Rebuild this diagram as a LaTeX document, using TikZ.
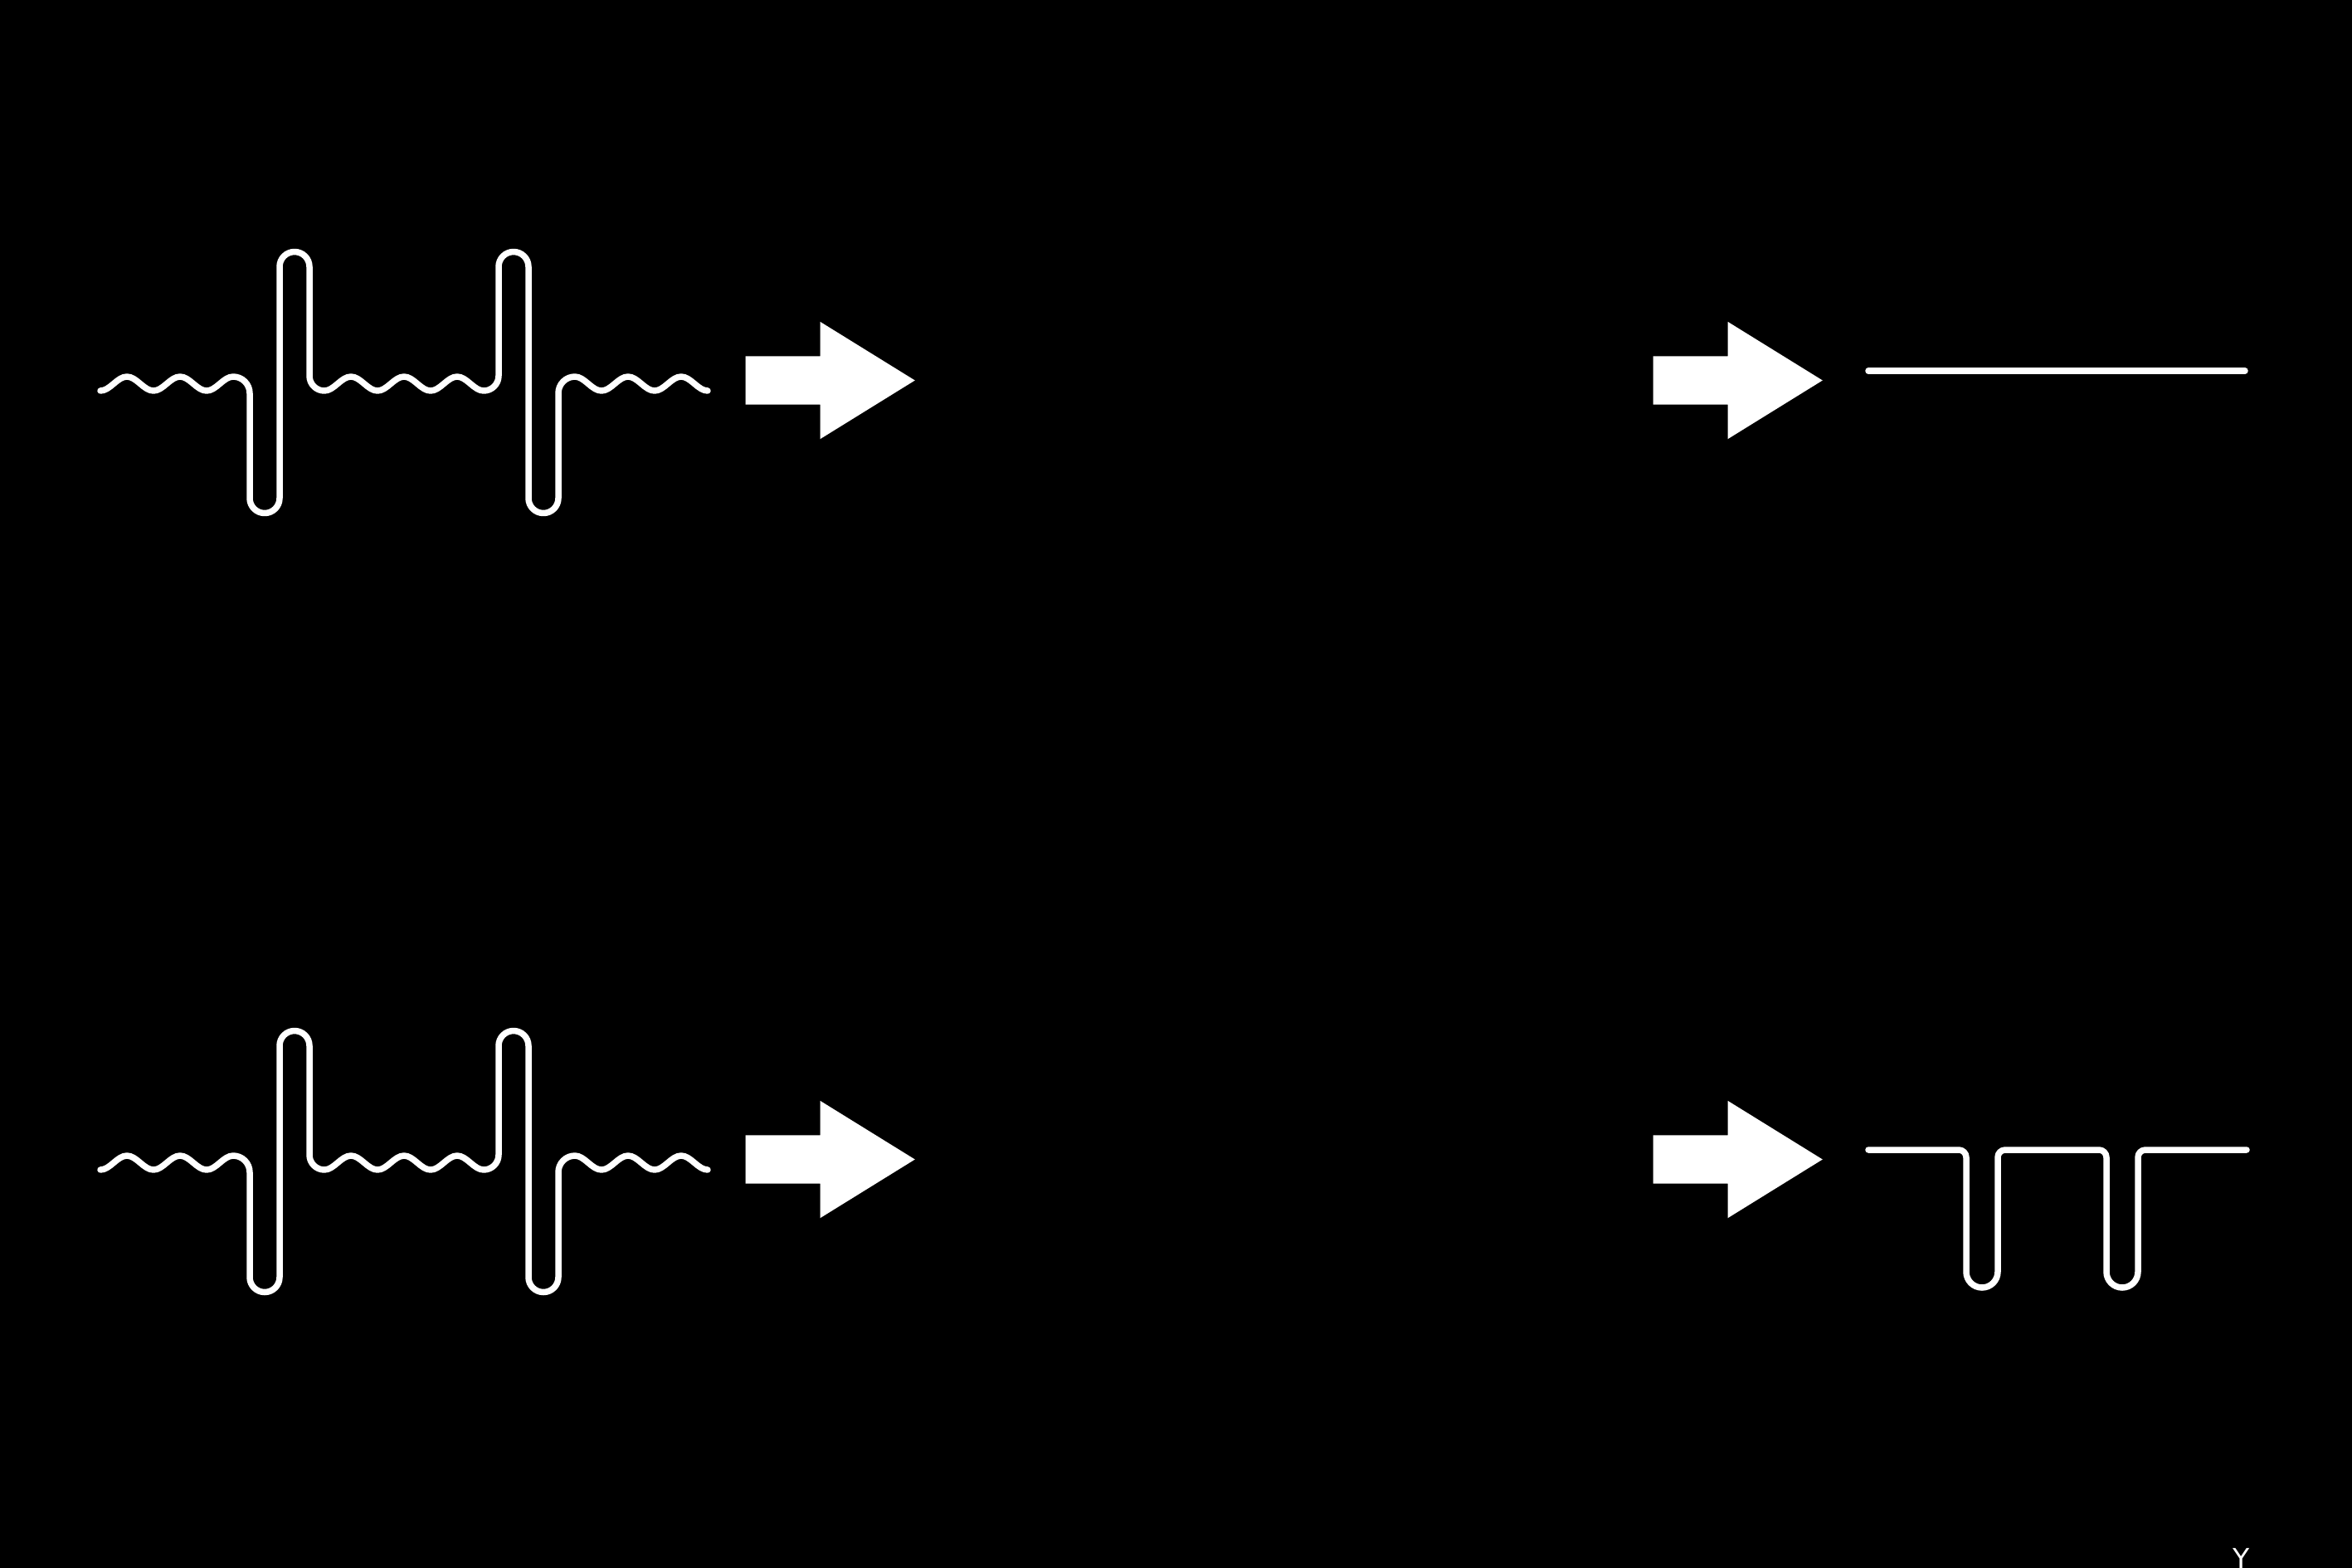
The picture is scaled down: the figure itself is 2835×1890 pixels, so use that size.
\documentclass[tikz,border=0pt]{standalone}
\usepackage{fontspec}
\newfontfamily\labelfont{DejaVu Sans}
\usetikzlibrary{shapes.arrows}
\tikzset{
    signalline/.style={draw=white,line width=0.075cm,line cap=round,line join=round},
    stagearrow/.style={single arrow,fill=white,draw=none,inner xsep=0pt,inner ysep=0.285cm,minimum height=2.04cm,single arrow head extend=0.415cm,single arrow tip angle=63.5,anchor=tail},
    cornerlabel/.style={anchor=north,inner sep=0pt,text=white,font=\labelfont\fontsize{9.4}{11}\selectfont},
    noisysignal/.pic={
        \draw[signalline] (121,471) cos (137,462.5) sin (153,454) cos (169,462.5) sin (185,471)
            cos (201,462.5) sin (217,454) cos (233,462.5) sin (249,471)
            cos (265,462.5) sin (281,454)
            arc (270:360:20) -- (301,600.5) arc (180:0:18) -- (337,321.5) arc (180:360:18)
            -- (373,453) arc (180:90:18)
            cos (407,462.5) sin (423,454) cos (439,462.5) sin (455,471)
            cos (471,462.5) sin (487,454) cos (503,462.5) sin (519,471)
            cos (535,462.5) sin (551,454) cos (567,462.5) sin (583,471)
            arc (90:0:18) -- (601,321.5) arc (180:360:18) -- (637,600.5) arc (180:0:18)
            -- (673,474) arc (180:270:20)
            cos (709,462.5) sin (725,471) cos (741,462.5) sin (757,454)
            cos (773,462.5) sin (789,471) cos (805,462.5) sin (821,454)
            cos (837,462.5) sin (853,471);
    }
}

\begin{document}
\begin{tikzpicture}[x=0.01cm,y=-0.01cm]
    \fill[black] (0,0) rectangle (2835,1890);
    \useasboundingbox (0,0) rectangle (2835,1890);
    % upper row
    \pic (inA) at (0,0) {noisysignal};
    \node[stagearrow] (arrA1) at (898,458.5) {};
    \node[stagearrow] (arrA2) at (1992,458.5) {};
    \draw[signalline] (2252,447) -- (2706,447);
    % lower row
    \pic (inB) at (0,939) {noisysignal};
    \node[stagearrow] (arrB1) at (898,1397.5) {};
    \node[stagearrow] (arrB2) at (1992,1397.5) {};
    \draw[signalline] (2252,1386) -- (2361,1386) arc (270:360:9) -- (2370,1533) arc (180:0:19)
        -- (2408,1395) arc (180:270:9) -- (2530,1386) arc (270:360:9) -- (2539,1533) arc (180:0:19)
        -- (2577,1395) arc (180:270:9) -- (2708,1386);
    \node[cornerlabel] (ymark) at (2702,1866) {Y};
\end{tikzpicture}
\end{document}
